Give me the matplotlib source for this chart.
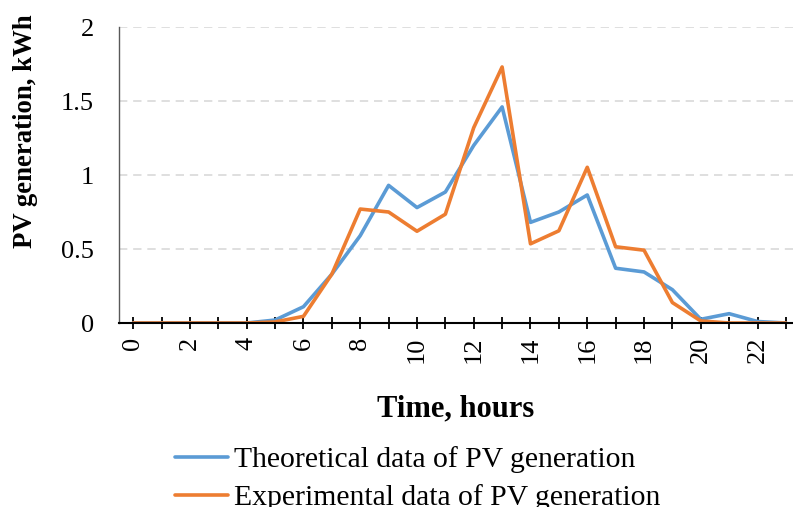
import matplotlib
matplotlib.use("Agg")
import matplotlib.pyplot as plt
import numpy as np

hours = list(range(24))
theoretical = [0, 0, 0, 0, 0, 0.02, 0.11, 0.33, 0.59, 0.93, 0.78, 0.885, 1.20, 1.46,
               0.68, 0.75, 0.865, 0.37, 0.345, 0.225, 0.025, 0.063, 0.01, 0.0]
experimental = [0, 0, 0, 0, 0, 0.007, 0.045, 0.33, 0.77, 0.75, 0.62, 0.735, 1.32, 1.73,
                0.535, 0.623, 1.052, 0.515, 0.492, 0.138, 0.014, 0.0, 0.0, 0.0]
xtick_labels = [str(h) if h % 2 == 0 else '' for h in hours]
ytick_vals = [0, 0.5, 1, 1.5, 2]
ytick_labels = ["0", "0.5", "1", "1.5", "2"]

plt.rcParams['font.family'] = ['Liberation Serif', 'DejaVu Serif']

W, H = 793, 507
fig = plt.figure(figsize=(W / 100, H / 100), dpi=100)
ax = fig.add_axes([119 / W, 1 - 323 / H, (793 - 119) / W, (323 - 27) / H])

ax.plot(hours, theoretical, color='#5B9BD5', lw=2.6, solid_joinstyle='round',
        solid_capstyle='round', label='Theoretical data of PV generation', zorder=3)
ax.plot(hours, experimental, color='#ED7D31', lw=2.6, solid_joinstyle='round',
        solid_capstyle='round', label='Experimental data of PV generation', zorder=4)

ax.set_xlim(-0.5, 23.25)
ax.set_ylim(0, 2)
ax.set_xticks(hours)
ax.set_xticklabels(xtick_labels, rotation=90, fontsize=19)
ax.set_yticks(ytick_vals)
ax.set_yticklabels(ytick_labels, fontsize=19)
ax.tick_params(axis='x', direction='inout', length=8, width=1.3, color='black', pad=6)
ax.tick_params(axis='y', length=0, pad=18)

ax.yaxis.grid(True, color='#d9d9d9', lw=1.2, linestyle=(0, (5, 3.5)))
ax.set_axisbelow(True)
for s in ['top', 'right']:
    ax.spines[s].set_visible(False)
ax.spines['left'].set_color('#595959')
ax.spines['left'].set_linewidth(1.0)
ax.spines['bottom'].set_color('black')
ax.spines['bottom'].set_linewidth(1.5)
ax.spines['bottom'].set_zorder(5)

fig.text(456 / W, 1 - 409 / H, 'Time, hours', fontsize=22, fontweight='bold',
         ha='center', va='center')
fig.text(26 / W, 1 - 131 / H, 'PV generation, kWh', fontsize=19.3, fontweight='bold',
         ha='center', va='center', rotation=90)

handles, labels = ax.get_legend_handles_labels()
fig.legend(handles, labels, loc='upper left', bbox_to_anchor=(175 / W, 1 - 446 / H),
           frameon=False, fontsize=21.3, handlelength=1.8, handletextpad=0.2,
           labelspacing=0.39, borderpad=0, borderaxespad=0)

fig.savefig('out.png', dpi=100)
